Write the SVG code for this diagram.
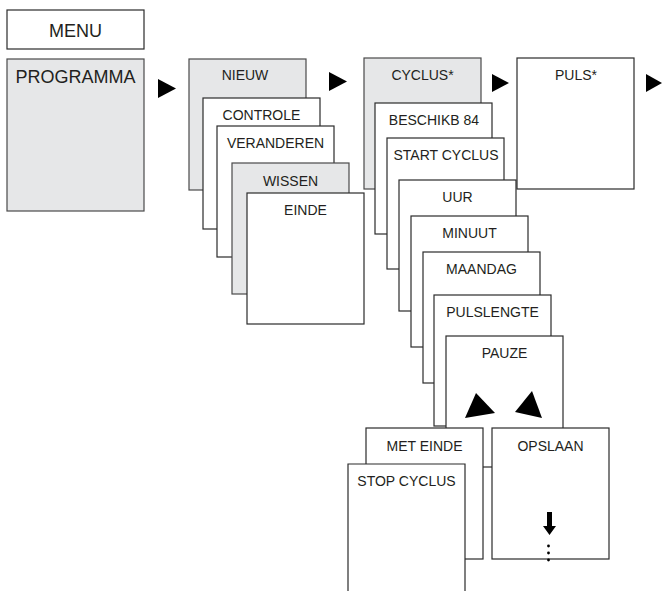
<svg xmlns="http://www.w3.org/2000/svg" width="662" height="591" viewBox="0 0 662 591">
<style>
.b{fill:#ffffff;stroke:#2b2b2b;stroke-width:1.2}
.g{fill:#e6e7e8;stroke:#4a4a4a;stroke-width:1.2}
.t{font-family:"Liberation Sans",Arial,sans-serif;font-size:14px;fill:#231f20;text-anchor:middle}
.tl{font-family:"Liberation Sans",Arial,sans-serif;font-size:18px;fill:#231f20;text-anchor:middle}
.a{fill:#000000}
</style>
<rect width="662" height="591" fill="#ffffff"/>
<g id="menu"><rect class="b" x="7" y="10" width="137" height="39"/><text class="tl" x="75.5" y="37">MENU</text></g>
<g id="programma"><rect class="g" x="7" y="59" width="137" height="152"/><text class="tl" x="75.5" y="83">PROGRAMMA</text></g>
<g id="nieuw"><rect class="g" x="189" y="59" width="117" height="131"/><text class="t" x="245" y="80">NIEUW</text></g>
<g id="controle"><rect class="b" x="203" y="98" width="117" height="131"/><text class="t" x="261.5" y="120">CONTROLE</text></g>
<g id="veranderen"><rect class="b" x="217" y="126" width="117" height="131"/><text class="t" x="275.5" y="148">VERANDEREN</text></g>
<g id="wissen"><rect class="g" x="232" y="163" width="117" height="131"/><text class="t" x="290.5" y="186">WISSEN</text></g>
<g id="einde"><rect class="b" x="247" y="193" width="117" height="131"/><text class="t" x="305.5" y="215">EINDE</text></g>
<g id="cyclus"><rect class="g" x="364" y="58" width="117" height="131"/><text class="t" x="422.5" y="80">CYCLUS*</text></g>
<g id="puls"><rect class="b" x="517" y="58" width="117" height="131"/><text class="t" x="576" y="80">PULS*</text></g>
<g id="beschikb"><rect class="b" x="375" y="103" width="117" height="131"/><text class="t" x="434" y="125">BESCHIKB 84</text></g>
<g id="startcyclus"><rect class="b" x="387" y="138" width="117" height="131"/><text class="t" x="446" y="160">START CYCLUS</text></g>
<g id="uur"><rect class="b" x="399" y="180" width="117" height="131"/><text class="t" x="457.5" y="202">UUR</text></g>
<g id="minuut"><rect class="b" x="411" y="216" width="117" height="131"/><text class="t" x="469.5" y="238">MINUUT</text></g>
<g id="maandag"><rect class="b" x="423" y="252" width="117" height="131"/><text class="t" x="481.5" y="274">MAANDAG</text></g>
<g id="pulslengte"><rect class="b" x="434" y="295" width="117" height="131"/><text class="t" x="492.5" y="317">PULSLENGTE</text></g>
<g id="pauze"><rect class="b" x="446" y="336" width="117" height="131"/><text class="t" x="504.5" y="358">PAUZE</text></g>
<g id="meteinde"><rect class="b" x="366" y="428" width="117" height="131"/><text class="t" x="424.5" y="451">MET EINDE</text></g>
<g id="opslaan"><rect class="b" x="492" y="428" width="117" height="131"/><text class="t" x="550.5" y="451">OPSLAAN</text>
<path class="a" d="M547 512 H552 V526 H556 L549.5 535 L543 526 H547 Z"/>
<circle class="a" cx="548.5" cy="546" r="1.4"/><circle class="a" cx="548.5" cy="553" r="1.4"/><circle class="a" cx="548.5" cy="560" r="1.4"/></g>
<g id="stopcyclus"><path class="b" d="M348 592 V464 H465 V592"/><text class="t" x="406.5" y="486">STOP CYCLUS</text></g>
<g id="connectors">
<polygon class="a" points="158,79 176,88.5 158,98"/>
<polygon class="a" points="329,72 347,81.5 329,91"/>
<polygon class="a" points="492,74 509,83 492,92"/>
<polygon class="a" points="646,74 662,83 646,92"/>
<polygon class="a" points="465,418 495,413 476,393"/>
<polygon class="a" points="515,412 542,418 532,391"/>
</g>
</svg>
